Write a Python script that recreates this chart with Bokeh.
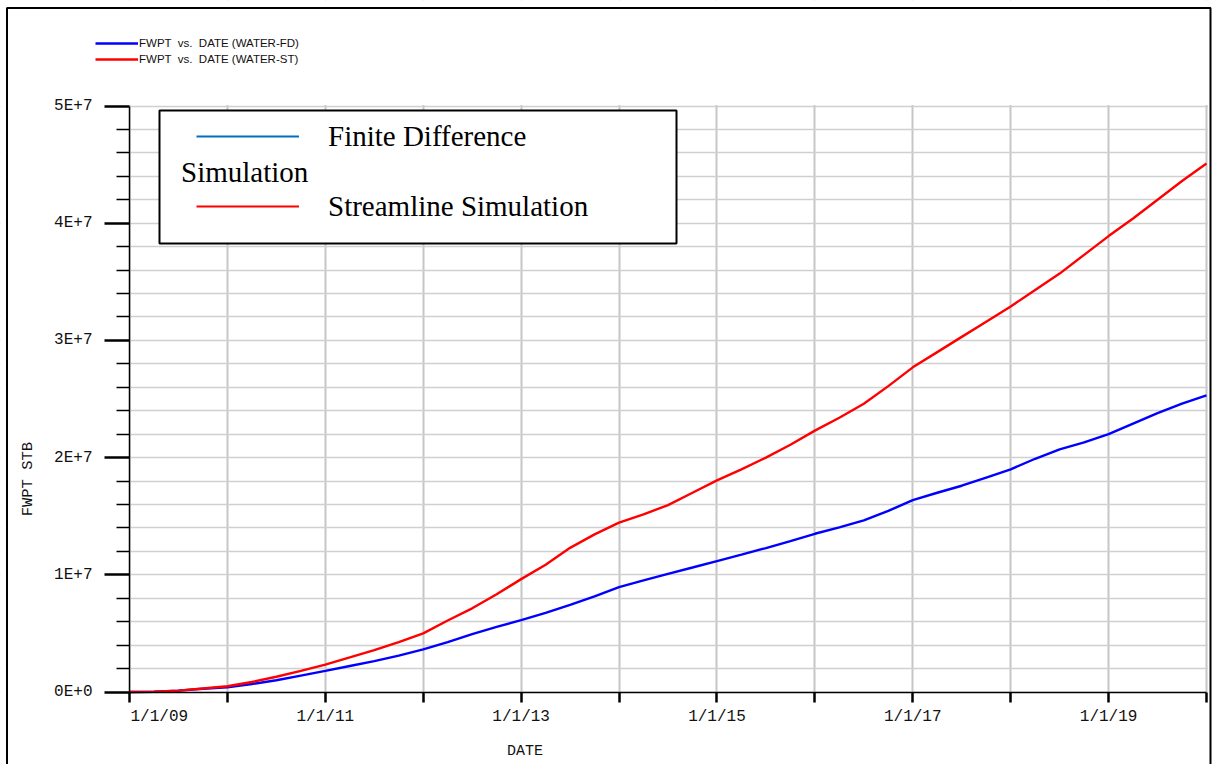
import numpy as np
from bokeh.plotting import figure
from bokeh.models import (FixedTicker, Legend, LegendItem, BoxAnnotation, Label, Range1d,
                          LinearAxis, Grid)
from bokeh.embed import file_html
from bokeh.resources import INLINE

# ---------------- data ----------------
years = [2009.0, 2009.25, 2009.5, 2009.75, 2010.0, 2010.25, 2010.5, 2010.75,
         2011.0, 2011.25, 2011.5, 2011.75, 2012.0, 2012.25, 2012.5, 2012.75,
         2013.0, 2013.25, 2013.5, 2013.75, 2014.0, 2014.25, 2014.5, 2014.75,
         2015.0, 2015.25, 2015.5, 2015.75, 2016.0, 2016.25, 2016.5, 2016.75,
         2017.0, 2017.25, 2017.5, 2017.75, 2018.0, 2018.25, 2018.5, 2018.75,
         2019.0, 2019.25, 2019.5, 2019.75, 2020.0]

# FWPT, finite difference simulation (million STB)
fwpt_fd = [0.0, 0.02, 0.12, 0.28, 0.40, 0.68, 1.00, 1.40,
           1.80, 2.22, 2.63, 3.10, 3.63, 4.25, 4.94, 5.55,
           6.14, 6.75, 7.43, 8.15, 8.95, 9.52, 10.08, 10.62,
           11.17, 11.72, 12.28, 12.88, 13.50, 14.05, 14.65, 15.45,
           16.37, 17.0, 17.6, 18.3, 19.0, 19.9, 20.7, 21.3,
           22.0, 22.9, 23.8, 24.6, 25.3]

# FWPT, streamline simulation (million STB)
fwpt_st = [0.0, 0.02, 0.12, 0.30, 0.49, 0.85, 1.30, 1.80,
           2.34, 2.95, 3.57, 4.25, 5.00, 6.10, 7.14, 8.34,
           9.63, 10.86, 12.30, 13.45, 14.45, 15.15, 15.95, 17.00,
           18.06, 19.00, 20.00, 21.10, 22.30, 23.40, 24.60, 26.10,
           27.7, 29.0, 30.3, 31.6, 32.9, 34.3, 35.7, 37.3,
           38.9, 40.4, 42.0, 43.6, 45.1]

x_ticks = [2009, 2010, 2011, 2012, 2013, 2014, 2015, 2016, 2017, 2018, 2019, 2020]
x_tick_labels = ["1/1/09", "", "1/1/11", "", "1/1/13", "", "1/1/15", "",
                 "1/1/17", "", "1/1/19", ""]
y_ticks = [0, 10_000_000, 20_000_000, 30_000_000, 40_000_000, 50_000_000]
y_tick_labels = ["0E+0", "1E+7", "2E+7", "3E+7", "4E+7", "5E+7"]

series_names = ["FWPT  vs.  DATE (WATER-FD)", "FWPT  vs.  DATE (WATER-ST)"]
box_names = ["Finite Difference", "Streamline Simulation"]

fd = np.array(fwpt_fd) * 1e6
st = np.array(fwpt_st) * 1e6

# ---------------- geometry: the plotting area covers the whole canvas ----------------
W, H = 1212, 764
X0, X1 = 2009, 2020
Y0, Y1 = 0, 5e7
PX_L, PX_R = 129.0, 1206.0      # pixel columns of 2009 and 2020
PY_B, PY_T = 691.5, 105.5       # pixel rows of 0 and 5E+7
sx = (PX_R - PX_L) / (X1 - X0)
sy = (PY_B - PY_T) / (Y1 - Y0)

def dx(px):
    return X0 + (px - PX_L) / sx

def dy(py):
    return Y0 + (PY_B - py) / sy

p = figure(width=W, height=H,
           x_range=Range1d(dx(0), dx(W)), y_range=Range1d(dy(H), dy(0)),
           x_axis_location=None, y_axis_location=None,
           output_backend="svg", toolbar_location=None,
           min_border_left=0, min_border_right=0, min_border_top=0, min_border_bottom=0)
p.outline_line_color = None
p.background_fill_color = "white"
p.border_fill_color = "white"

x_ticker = FixedTicker(ticks=x_ticks, minor_ticks=[])
minor_y = [v for v in range(0, 50_000_001, 2_000_000) if v not in y_ticks]
y_ticker = FixedTicker(ticks=y_ticks, minor_ticks=minor_y)

# grids, masked outside the data box
p.add_layout(Grid(dimension=0, ticker=x_ticker, grid_line_color="#c6c6c6", grid_line_width=2))
p.add_layout(Grid(dimension=1, ticker=y_ticker, grid_line_color="#d0d0d0", grid_line_width=1.5,
                  minor_grid_line_color="#d0d0d0", minor_grid_line_width=1.5))
mask = dict(fill_color="white", fill_alpha=1.0, line_alpha=0, level="underlay")
p.add_layout(BoxAnnotation(right=X0, **mask))
p.add_layout(BoxAnnotation(left=X1 + 1.5 / sx, **mask))
p.add_layout(BoxAnnotation(bottom=Y1 + 1.0 / sy, **mask))
p.add_layout(BoxAnnotation(top=Y0, **mask))

# data lines
r_fd = p.line(years, fd, line_color="#0000FF", line_width=2.4)
r_st = p.line(years, st, line_color="#FF0000", line_width=2.4)

# axes, fixed at the data box edges
xaxis = LinearAxis(fixed_location=Y0, ticker=x_ticker, bounds=(X0, X1),
                   major_label_overrides={k: ("" if k == X0 else v)
                                          for k, v in zip(x_ticks, x_tick_labels)},
                   major_tick_out=10, major_label_standoff=6)
yaxis = LinearAxis(fixed_location=X0, ticker=y_ticker, bounds=(Y0, Y1),
                   major_label_overrides=dict(zip(y_ticks, y_tick_labels)),
                   major_tick_out=25, minor_tick_out=13, minor_tick_line_color="black",
                   minor_tick_line_width=1.5, major_label_standoff=12)
for ax in (xaxis, yaxis):
    ax.axis_line_color = "black"
    ax.axis_line_width = 1.5
    ax.major_tick_line_color = "black"
    ax.major_tick_line_width = 2.5
    ax.major_tick_in = 0
    ax.minor_tick_in = 0
    ax.major_label_text_font = "Liberation Mono"
    ax.major_label_text_font_size = "16px"
    ax.major_label_text_color = "#111111"
p.add_layout(xaxis, "below")
p.add_layout(yaxis, "left")

# first date label sits to the right of its tick, as in the reference
p.add_layout(Label(x=130, y=H - 716, x_units="screen", y_units="screen",
                   text=x_tick_labels[0], text_align="left", text_baseline="middle",
                   text_font="Liberation Mono", text_font_size="16px", text_color="#111111"))
# axis titles
p.add_layout(Label(x=524.5, y=H - 751, x_units="screen", y_units="screen",
                   text="DATE", text_align="center", text_baseline="middle",
                   text_font="Liberation Mono", text_font_size="15px", text_color="#111111"))
p.add_layout(Label(x=27.5, y=H - 474, x_units="screen", y_units="screen",
                   text="FWPT  STB", angle=np.pi / 2, text_align="center",
                   text_baseline="middle",
                   text_font="Liberation Mono", text_font_size="15.5px", text_color="#111111"))

# top (software) legend
leg_top = Legend(items=[LegendItem(label=series_names[0], renderers=[r_fd]),
                        LegendItem(label=series_names[1], renderers=[r_st])],
                 location=(95, H - 66.5), orientation="vertical",
                 glyph_width=43, glyph_height=16, label_height=16,
                 label_standoff=1, spacing=0, padding=0, margin=0,
                 label_text_font="Liberation Sans", label_text_font_size="11.5px",
                 label_text_color="#111111",
                 border_line_color=None, background_fill_alpha=0)
p.add_layout(leg_top)

# boxed legend pasted in the upper left
p.add_layout(BoxAnnotation(left=dx(159), right=dx(676), top=dy(110), bottom=dy(243),
                           fill_color="white", fill_alpha=1.0,
                           line_color="black", line_alpha=1.0, line_width=2))
k_fd = p.line(x=years[:1], y=fwpt_fd[:1], line_color="#0070C0", line_width=2)
k_st = p.line(x=years[:1], y=fwpt_st[:1], line_color="#FF0000", line_width=2)
leg_box = Legend(items=[LegendItem(label=box_names[0], renderers=[k_fd]),
                        LegendItem(label=box_names[1], renderers=[k_st])],
                 location=(196, H - 223.4), orientation="vertical",
                 glyph_width=103, glyph_height=34, label_height=34,
                 label_standoff=29, spacing=36, padding=0, margin=0,
                 label_text_font="Liberation Serif", label_text_font_size="29px",
                 label_text_color="black",
                 border_line_color=None, background_fill_alpha=0)
p.add_layout(leg_box)
p.add_layout(Label(x=180.5, y=H - 171, x_units="screen", y_units="screen",
                   text="Simulation", text_align="left", text_baseline="middle",
                   text_font="Liberation Serif", text_font_size="29px",
                   text_color="black"))

# outer frame of the picture (bottom edge lies below the page)
p.add_layout(BoxAnnotation(left=dx(6.5), right=dx(1210), top=dy(7.5), bottom=dy(H + 20),
                           fill_alpha=0, line_color="black", line_alpha=1.0, line_width=2))

open("out.html", "w").write(file_html(p, INLINE))
